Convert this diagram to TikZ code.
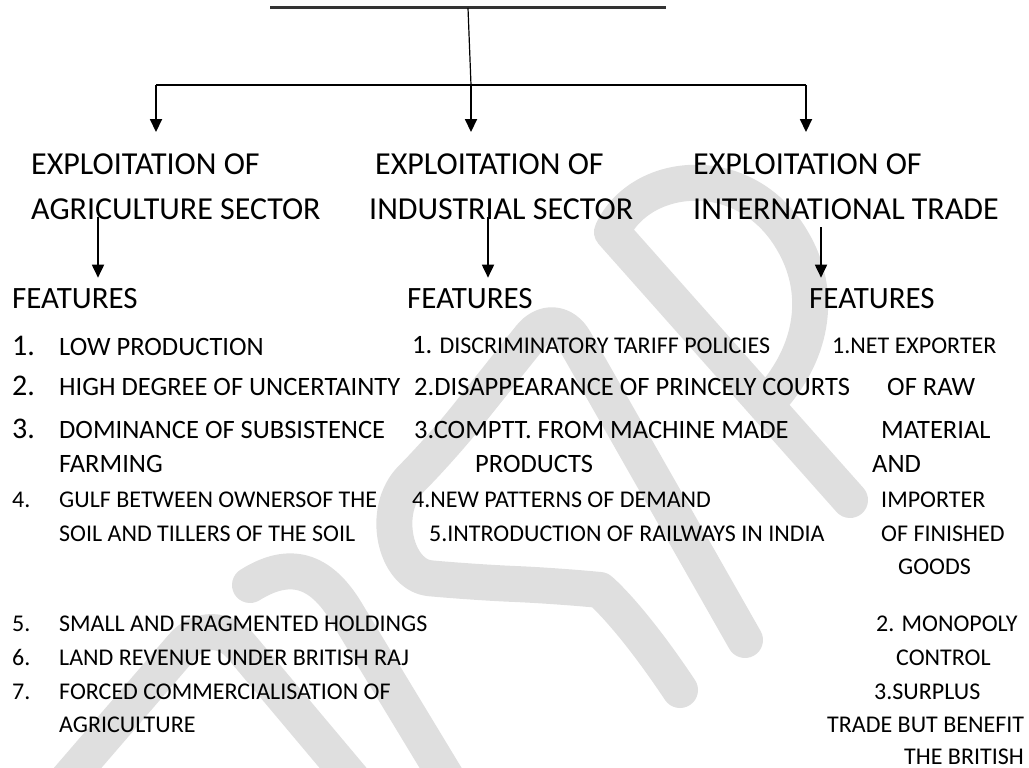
\documentclass[tikz,border=0pt]{standalone}
\usepackage{fontspec}
\setmainfont{Carlito}
\usetikzlibrary{arrows.meta}
\definecolor{wmgray}{RGB}{223,223,223}

\begin{document}
\begin{tikzpicture}[x=1pt,y=-1pt,
  head/.style={anchor=base west,inner sep=0pt,align=left,font=\fontsize{32}{45}\selectfont},
  feat/.style={anchor=base west,inner sep=0pt,font=\fontsize{31}{36}\selectfont},
  numbig/.style={anchor=base west,inner sep=0pt,font=\fontsize{30}{34}\selectfont},
  itembig/.style={anchor=base west,inner sep=0pt,font=\fontsize{26.5}{30}\selectfont},
  itemsmall/.style={anchor=base west,inner sep=0pt,font=\fontsize{24}{28}\selectfont},
  arrow/.style={-{Triangle[width=12pt,length=13pt]},draw=black,line width=1.8pt},
  mark line/.style={draw=wmgray,line width=36pt,line cap=round,line join=round}]
  \useasboundingbox (0,0) rectangle (1029,768);
  % watermark
  \draw[mark line,rounded corners=45pt] (50,800) -- (212,612) -- (370,800);
  \draw[mark line] (250,585) .. controls (290,560) and (320,570) .. (345,610) -- (460,800);
  \draw[mark line,rounded corners=40pt] (745,640) -- (555,306) -- (440,450)
    .. controls (380,510) and (395,575) .. (470,582) -- (560,586)
    .. controls (600,590) and (630,615) .. (680,690);
  \draw[mark line] (850,500) -- (612,232)
    .. controls (640,170) and (745,160) .. (792,240)
    .. controls (822,290) and (815,350) .. (770,400);

  % title line and split
  \coordinate (titleL) at (270,8);
  \coordinate (titleR) at (666,8);
  \coordinate (top) at (468,8);
  \coordinate (hub) at (471,85);
  \coordinate (barL) at (156,85);
  \coordinate (barR) at (806,85);
  \draw[line width=3pt,black!80] (titleL) -- (titleR);
  \draw[line width=1.2pt] (top) -- (hub);
  \draw[line width=1.8pt] (barL) -- (barR);

  % sectors
  \node[head] (agri) at (31,219) {EXPLOITATION OF\\AGRICULTURE SECTOR};
  \node[head] (indu) at (369,219) {\hspace*{6pt}EXPLOITATION OF\\INDUSTRIAL SECTOR};
  \node[head] (trade) at (693,219) {EXPLOITATION OF\\INTERNATIONAL TRADE};
  \draw[arrow,shorten >=21pt] (barL) -- (barL |- agri.north);
  \draw[arrow,shorten >=21pt] (hub) -- (hub |- indu.north);
  \draw[arrow,shorten >=21pt] (barR) -- (barR |- trade.north);

  \node[feat] (featA) at (12,308) {FEATURES};
  \node[feat] (featI) at (407,308) {FEATURES};
  \node[feat] (featT) at (809,308) {FEATURES};
  \coordinate (agriOut) at (98,217);
  \coordinate (induOut) at (488,217);
  \coordinate (tradeOut) at (821,227);
  \draw[arrow,shorten >=10pt] (agriOut) -- (agriOut |- featA.north);
  \draw[arrow,shorten >=10pt] (induOut) -- (induOut |- featI.north);
  \draw[arrow,shorten >=10pt] (tradeOut) -- (tradeOut |- featT.north);

  % agriculture features
  \node[numbig] (n1) at (12,355) {1.};
  \node[itembig] (a1) at (59,355) {LOW PRODUCTION};
  \node[numbig] (n2) at (12,395.5) {2.};
  \node[itembig] (a2) at (59,395.5) {HIGH DEGREE OF UNCERTAINTY};
  \node[numbig] (n3) at (12,438.5) {3.};
  \node[itembig] (a3) at (59,438.5) {DOMINANCE OF SUBSISTENCE};
  \node[itembig] (a3b) at (59,472.5) {FARMING};
  \node[itemsmall] (n4) at (12,507.7) {4.};
  \node[itemsmall] (a4) at (59,507.7) {GULF BETWEEN OWNERSOF THE};
  \node[itemsmall] (a4b) at (59,541.7) {SOIL AND TILLERS OF THE SOIL};
  \node[itemsmall] (n5) at (12,631.7) {5.};
  \node[itemsmall] (a5) at (59,631.7) {SMALL AND FRAGMENTED HOLDINGS};
  \node[itemsmall] (n6) at (12,665.7) {6.};
  \node[itemsmall] (a6) at (59,665.7) {LAND REVENUE UNDER BRITISH RAJ};
  \node[itemsmall] (n7) at (12,699.7) {7.};
  \node[itemsmall] (a7) at (59,699.7) {FORCED COMMERCIALISATION OF};
  \node[itemsmall] (a7b) at (59,732.7) {AGRICULTURE};

  % industrial features
  \node[itemsmall] (i1) at (412,353.7) {{\fontsize{26.5}{30}\selectfont 1.} DISCRIMINATORY TARIFF POLICIES};
  \node[itembig] (i2) at (414,395.5) {2.DISAPPEARANCE OF PRINCELY COURTS};
  \node[itembig] (i3) at (414,438.5) {3.COMPTT. FROM MACHINE MADE};
  \node[itembig] (i3b) at (475,472.5) {PRODUCTS};
  \node[itemsmall] (i4) at (412,507.7) {4.NEW PATTERNS OF DEMAND};
  \node[itemsmall] (i5) at (429,541.7) {5.INTRODUCTION OF RAILWAYS IN INDIA};

  % trade features
  \node[itemsmall] (t1) at (832,353.7) {1.NET EXPORTER};
  \node[itembig] (t1b) at (887,395.5) {OF RAW};
  \node[itembig] (t1c) at (881,438.5) {MATERIAL};
  \node[itembig] (t1d) at (872,472.5) {AND};
  \node[itemsmall] (t1e) at (881,507.7) {IMPORTER};
  \node[itemsmall] (t1f) at (881,541.7) {OF FINISHED};
  \node[itemsmall] (t1g) at (898,574.7) {GOODS};
  \node[itemsmall] (t2) at (876,631.7) {2. MONOPOLY};
  \node[itemsmall] (t2b) at (896,665.7) {CONTROL};
  \node[itemsmall] (t3) at (874,699.7) {3.SURPLUS};
  \node[itemsmall] (t3b) at (827,732.7) {TRADE BUT BENEFIT};
  \node[itemsmall] (t3c) at (904,764) {THE BRITISH};
\end{tikzpicture}
\end{document}
